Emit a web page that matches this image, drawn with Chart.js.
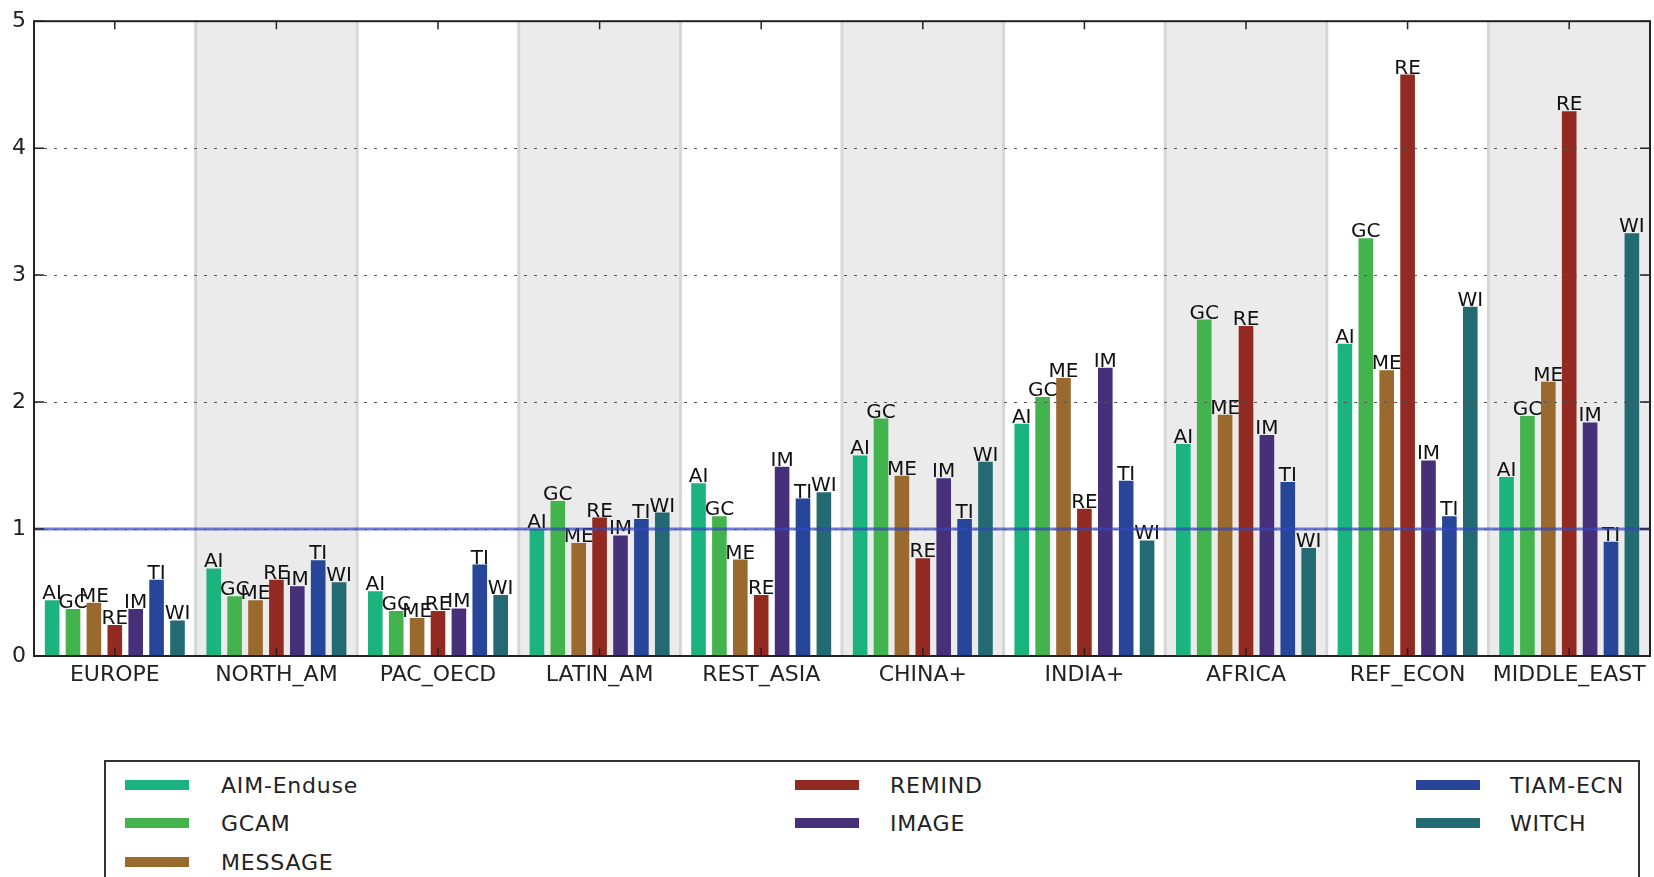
<!DOCTYPE html>
<html>
<head>
<meta charset="utf-8">
<script src="https://cdn.jsdelivr.net/npm/chart.js@4.4.1/dist/chart.umd.min.js"></script>
<style>
  body { margin: 0; background: #fff; }
  #wrap { position: relative; width: 1654px; height: 877px; overflow: hidden; }
  #legend {
    position: absolute; left: 104px; top: 760px; width: 1536px; height: 140px;
    border: 2px solid #333; box-sizing: border-box; background: #fff;
  }
  .sw { position: absolute; width: 64px; height: 10px; }
  .lb {
    position: absolute; font-family: "DejaVu Sans", sans-serif; font-size: 22px;
    letter-spacing: 0.8px; color: #222; line-height: 26px;
  }
</style>
</head>
<body>
<div id="wrap">
  <canvas id="myChart" width="1654" height="877"></canvas>
  <div id="legend"></div>
</div>
<script>
const regions = ["EUROPE", "NORTH_AM", "PAC_OECD", "LATIN_AM", "REST_ASIA",
  "CHINA+", "INDIA+", "AFRICA", "REF_ECON", "MIDDLE_EAST"];

const models = ["AIM-Enduse", "GCAM", "MESSAGE", "REMIND", "IMAGE", "TIAM-ECN", "WITCH"];
const shortNames = ["AI", "GC", "ME", "RE", "IM", "TI", "WI"];
const colors = ["#1bb47f", "#43b34d", "#99692e", "#922a22", "#47307a", "#27469a", "#236a72"];

const aimEnduse = [0.44, 0.69, 0.51, 1.00, 1.36, 1.58, 1.83, 1.67, 2.46, 1.41];
const gcam      = [0.37, 0.47, 0.355, 1.22, 1.10, 1.87, 2.04, 2.65, 3.29, 1.89];
const message   = [0.42, 0.44, 0.30, 0.89, 0.76, 1.42, 2.19, 1.90, 2.25, 2.16];
const remind    = [0.245, 0.60, 0.355, 1.09, 0.48, 0.77, 1.16, 2.60, 4.58, 4.29];
const image     = [0.37, 0.55, 0.375, 0.95, 1.49, 1.40, 2.27, 1.74, 1.54, 1.84];
const tiamEcn   = [0.60, 0.755, 0.72, 1.08, 1.24, 1.08, 1.38, 1.37, 1.10, 0.90];
const witch     = [0.28, 0.58, 0.48, 1.13, 1.29, 1.53, 0.91, 0.85, 2.75, 3.33];

const yTicks = [0, 1, 2, 3, 4, 5];
const refLevel = 1;

const seriesValues = [aimEnduse, gcam, message, remind, image, tiamEcn, witch];

Chart.defaults.font.family = "DejaVu Sans";

// stripes behind groups, labels over bars, the blue line at 1, frame and ticks
const decorations = {
  id: "decorations",
  beforeDatasetsDraw(chart) {
    const { ctx, chartArea: a, scales: { x } } = chart;
    const w = a.width / regions.length;
    ctx.save();
    ctx.fillStyle = "#ebebeb";
    regions.forEach((r, i) => {
      if (i % 2 === 1) {
        ctx.fillRect(x.getPixelForValue(i) - w / 2, a.top, w, a.height);
      }
    });
    ctx.strokeStyle = "#d6d6d6";
    ctx.lineWidth = 3;
    for (let i = 1; i < regions.length; i++) {
      const bx = x.getPixelForValue(i) - w / 2;
      ctx.beginPath();
      ctx.moveTo(bx, a.top);
      ctx.lineTo(bx, a.bottom);
      ctx.stroke();
    }
    ctx.restore();
  },
  afterDatasetsDraw(chart) {
    const { ctx, chartArea: a, scales: { y } } = chart;
    ctx.save();
    ctx.font = "20px 'DejaVu Sans'";
    ctx.fillStyle = "#111";
    ctx.textAlign = "center";
    ctx.textBaseline = "alphabetic";
    chart.data.datasets.forEach((ds, di) => {
      chart.getDatasetMeta(di).data.forEach(bar => {
        ctx.fillText(shortNames[di], bar.x, bar.y - 1);
      });
    });
    const ry = y.getPixelForValue(refLevel);
    ctx.strokeStyle = "rgba(50, 70, 190, 0.7)";
    ctx.lineWidth = 3;
    ctx.beginPath();
    ctx.moveTo(a.left, ry);
    ctx.lineTo(a.right, ry);
    ctx.stroke();
    ctx.restore();
  },
  afterDraw(chart) {
    const { ctx, chartArea: a, scales: { x, y } } = chart;
    ctx.save();
    ctx.strokeStyle = "#222";
    ctx.lineWidth = 1.5;
    regions.forEach((r, i) => {
      const tx = x.getPixelForValue(i);
      ctx.beginPath();
      ctx.moveTo(tx, a.bottom); ctx.lineTo(tx, a.bottom - 8);
      ctx.moveTo(tx, a.top); ctx.lineTo(tx, a.top + 8);
      ctx.stroke();
    });
    yTicks.forEach(v => {
      const ty = y.getPixelForValue(v);
      ctx.beginPath();
      ctx.moveTo(a.left, ty); ctx.lineTo(a.left + 10, ty);
      ctx.moveTo(a.right, ty); ctx.lineTo(a.right - 10, ty);
      ctx.stroke();
    });
    ctx.lineWidth = 2;
    ctx.strokeRect(a.left, a.top, a.width, a.height);
    ctx.restore();
  }
};

new Chart("myChart", {
  type: "bar",
  data: {
    labels: regions,
    datasets: models.map((m, i) => ({
      label: m,
      data: seriesValues[i],
      backgroundColor: colors[i],
      borderWidth: 0,
      categoryPercentage: 0.905,
      barPercentage: 0.7,
    })),
  },
  options: {
    responsive: false,
    animation: false,
    devicePixelRatio: 1,
    layout: { padding: { left: 0, right: 4, top: 19, bottom: 0 } },
    plugins: {
      legend: { display: false },
      tooltip: { enabled: false },
    },
    scales: {
      x: {
        grid: { display: false, drawTicks: false },
        border: { display: false },
        ticks: { font: { size: 22 }, color: "#222", padding: 6, maxRotation: 0, autoSkip: false },
        afterFit: s => { s.height = 221; },
      },
      y: {
        min: 0,
        max: 5,
        z: 1,
        afterBuildTicks: s => { s.ticks = yTicks.map(v => ({ value: v })); },
        ticks: { font: { size: 22 }, color: "#222", padding: 8 },
        grid: { z: 1, color: "#555", lineWidth: 1, drawTicks: false },
        border: { display: false, dash: [3, 7] },
        afterFit: s => { s.width = 34; },
      },
    },
  },
  plugins: [decorations],
});

// legend box, three columns filled top to bottom like the original
const legendEl = document.getElementById("legend");
const colSwatchX = [19, 689, 1310];
const colTextX = [115, 784, 1404];
const rowY = [18, 56, 95];
const perCol = [3, 2, 2];
let k = 0;
perCol.forEach((n, c) => {
  for (let r = 0; r < n; r++, k++) {
    const sw = document.createElement("div");
    sw.className = "sw";
    sw.style.left = colSwatchX[c] + "px";
    sw.style.top = rowY[r] + "px";
    sw.style.background = colors[k];
    legendEl.appendChild(sw);
    const lb = document.createElement("div");
    lb.className = "lb";
    lb.style.left = colTextX[c] + "px";
    lb.style.top = (rowY[r] - 7) + "px";
    lb.textContent = models[k];
    legendEl.appendChild(lb);
  }
});
</script>
</body>
</html>
